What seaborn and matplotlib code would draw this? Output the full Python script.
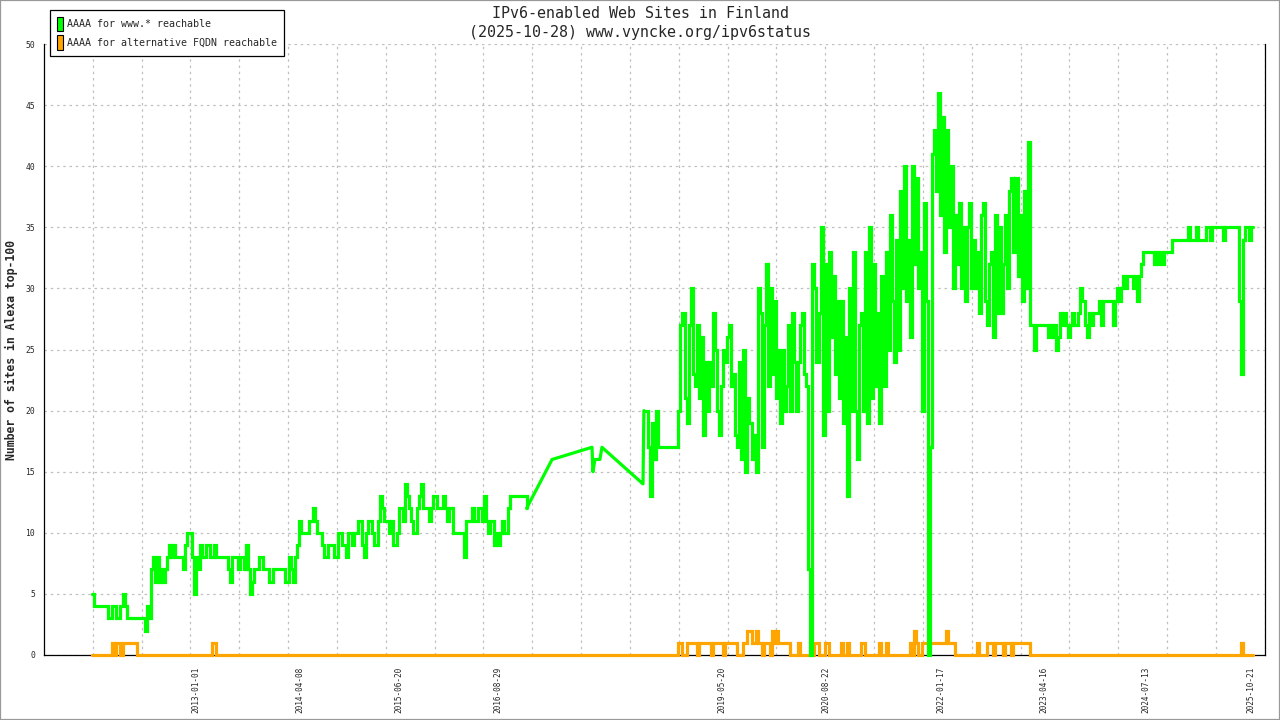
import pandas as pd
import matplotlib
matplotlib.use("Agg")
import matplotlib.pyplot as plt
import matplotlib.dates as mdates
from matplotlib.patches import Patch, Rectangle
from matplotlib.ticker import FixedLocator, FixedFormatter, NullFormatter
import seaborn as sns

# readings every 9 days from 2011-09-28 to early 2017
early_start = "2011-09-28"
www_early = [
    5, 4, 4, 4, 4, 4, 4, 4, 3, 3,
    4, 4, 3, 3, 4, 5, 4, 3, 3, 3,
    3, 3, 3, 3, 3, 3, 2, 4, 3, 7,
    8, 6, 8, 6, 7, 6, 7, 8, 9, 8,
    9, 8, 8, 8, 8, 7, 9, 10, 10, 8,
    5, 8, 7, 9, 8, 8, 9, 9, 8, 8,
    9, 8, 8, 8, 8, 8, 8, 7, 6, 8,
    8, 8, 7, 8, 8, 7, 9, 7, 5, 6,
    7, 7, 8, 8, 7, 7, 7, 6, 6, 7,
    7, 7, 7, 7, 7, 6, 6, 8, 7, 6,
    8, 9, 11, 10, 10, 10, 10, 11, 11, 12,
    11, 10, 10, 9, 8, 8, 9, 9, 9, 8,
    8, 10, 10, 9, 9, 8, 10, 10, 9, 10,
    10, 11, 11, 9, 8, 10, 11, 11, 10, 9,
    9, 11, 13, 12, 11, 11, 10, 11, 9, 9,
    10, 12, 12, 11, 14, 13, 12, 11, 10, 10,
    12, 13, 14, 12, 12, 12, 11, 12, 13, 13,
    12, 12, 12, 13, 12, 11, 12, 12, 10, 10,
    10, 10, 10, 8, 11, 11, 11, 12, 11, 11,
    12, 12, 11, 13, 11, 10, 11, 11, 9, 10,
    9, 10, 11, 10, 10, 12, 13, 13, 13, 13,
    13, 13, 13, 13, 12,
]
alt_early = [
    0, 0, 0, 0, 0, 0, 0, 0, 0, 0,
    1, 0, 1, 1, 0, 1, 1, 1, 1, 1,
    1, 1, 0, 0, 0, 0, 0, 0, 0, 0,
    0, 0, 0, 0, 0, 0, 0, 0, 0, 0,
    0, 0, 0, 0, 0, 0, 0, 0, 0, 0,
    0, 0, 0, 0, 0, 0, 0, 0, 0, 1,
    1, 0, 0, 0, 0, 0, 0, 0, 0, 0,
    0, 0, 0, 0, 0, 0, 0, 0, 0, 0,
    0, 0, 0, 0, 0, 0, 0, 0, 0, 0,
    0, 0, 0, 0, 0, 0, 0, 0, 0, 0,
    0, 0, 0, 0, 0, 0, 0, 0, 0, 0,
    0, 0, 0, 0, 0, 0, 0, 0, 0, 0,
    0, 0, 0, 0, 0, 0, 0, 0, 0, 0,
    0, 0, 0, 0, 0, 0, 0, 0, 0, 0,
    0, 0, 0, 0, 0, 0, 0, 0, 0, 0,
    0, 0, 0, 0, 0, 0, 0, 0, 0, 0,
    0, 0, 0, 0, 0, 0, 0, 0, 0, 0,
    0, 0, 0, 0, 0, 0, 0, 0, 0, 0,
    0, 0, 0, 0, 0, 0, 0, 0, 0, 0,
    0, 0, 0, 0, 0, 0, 0, 0, 0, 0,
    0, 0, 0, 0, 0, 0, 0, 0, 0, 0,
    0, 0, 0, 0, 0,
]

# sparse measurements during 2017-2018
gap_dates = ["2017-04-28", "2017-10-22", "2017-10-26", "2017-11-04",
             "2017-11-26", "2017-12-05", "2018-06-05"]
www_gap = [16, 17, 15, 16, 16, 17, 14]
alt_gap = [0, 0, 0, 0, 0, 0, 0]

# readings every 9 days again from 2018-06-09
recent_start = "2018-06-09"
www_recent = [
    20, 20, 17, 13, 19, 16, 20, 17, 17, 17,
    17, 17, 17, 17, 17, 17, 17, 20, 27, 28,
    21, 19, 27, 30, 23, 22, 27, 21, 26, 18,
    24, 20, 24, 22, 28, 25, 20, 18, 22, 25,
    24, 26, 27, 22, 23, 18, 17, 24, 16, 25,
    15, 21, 19, 16, 18, 15, 30, 28, 17, 27,
    32, 22, 30, 23, 29, 21, 25, 19, 25, 20,
    22, 27, 20, 28, 24, 20, 24, 27, 28, 23,
    22, 7, 0, 32, 30, 24, 28, 35, 18, 32,
    20, 33, 26, 31, 23, 29, 21, 29, 19, 26,
    13, 30, 20, 33, 20, 16, 27, 28, 20, 33,
    19, 35, 21, 32, 22, 28, 19, 31, 22, 33,
    25, 36, 29, 24, 34, 25, 38, 30, 40, 29,
    34, 26, 40, 32, 39, 30, 33, 20, 37, 29,
    0, 17, 41, 43, 38, 46, 36, 44, 33, 43,
    35, 40, 30, 36, 32, 37, 30, 35, 29, 35,
    37, 30, 34, 30, 33, 28, 36, 37, 29, 27,
    32, 33, 26, 36, 28, 35, 28, 32, 36, 30,
    38, 39, 33, 39, 31, 36, 29, 38, 30, 42,
    27, 27, 25, 27, 27, 27, 27, 27, 27, 26,
    27, 26, 27, 25, 26, 28, 27, 28, 27, 26,
    27, 28, 27, 27, 28, 30, 29, 27, 26, 28,
    27, 28, 28, 28, 29, 27, 29, 29, 29, 29,
    29, 27, 29, 30, 29, 30, 31, 30, 31, 31,
    31, 30, 31, 29, 31, 32, 33, 33, 33, 33,
    33, 32, 33, 32, 33, 32, 33, 33, 33, 33,
    34, 34, 34, 34, 34, 34, 34, 34, 35, 34,
    34, 34, 35, 34, 34, 34, 34, 35, 35, 34,
    35, 35, 35, 35, 35, 34, 35, 35, 35, 35,
    35, 35, 35, 29, 23, 34, 35, 35, 34, 35,
    35,
]
alt_recent = [
    0, 0, 0, 0, 0, 0, 0, 0, 0, 0,
    0, 0, 0, 0, 0, 0, 0, 1, 1, 0,
    0, 1, 1, 1, 1, 1, 0, 1, 1, 1,
    1, 1, 1, 0, 1, 1, 1, 1, 1, 0,
    1, 1, 1, 1, 1, 1, 0, 0, 0, 1,
    1, 2, 2, 1, 1, 2, 1, 1, 0, 1,
    1, 1, 0, 2, 1, 2, 1, 1, 1, 1,
    1, 1, 0, 0, 0, 0, 1, 0, 0, 0,
    0, 0, 0, 0, 1, 1, 0, 0, 0, 1,
    1, 0, 0, 0, 0, 0, 0, 1, 0, 0,
    1, 0, 0, 0, 0, 0, 0, 1, 1, 0,
    0, 0, 0, 0, 0, 0, 1, 0, 0, 1,
    0, 0, 0, 0, 0, 0, 0, 0, 0, 0,
    0, 1, 0, 2, 1, 0, 0, 1, 1, 1,
    1, 1, 1, 1, 1, 1, 1, 1, 1, 2,
    1, 1, 1, 0, 0, 0, 0, 0, 0, 0,
    0, 0, 0, 0, 1, 0, 0, 0, 0, 1,
    1, 1, 0, 1, 1, 1, 1, 0, 1, 1,
    1, 0, 1, 1, 1, 1, 1, 1, 1, 1,
    0, 0, 0, 0, 0, 0, 0, 0, 0, 0,
    0, 0, 0, 0, 0, 0, 0, 0, 0, 0,
    0, 0, 0, 0, 0, 0, 0, 0, 0, 0,
    0, 0, 0, 0, 0, 0, 0, 0, 0, 0,
    0, 0, 0, 0, 0, 0, 0, 0, 0, 0,
    0, 0, 0, 0, 0, 0, 0, 0, 0, 0,
    0, 0, 0, 0, 0, 0, 0, 0, 0, 0,
    0, 0, 0, 0, 0, 0, 0, 0, 0, 0,
    0, 0, 0, 0, 0, 0, 0, 0, 0, 0,
    0, 0, 0, 0, 0, 0, 0, 0, 0, 0,
    0, 0, 0, 0, 1, 0, 0, 0, 0, 0,
    0,
]

label_dates = ["2013-01-01", "2014-04-08", "2015-06-20", "2016-08-29", "2019-05-20",
               "2020-08-22", "2022-01-17", "2023-04-16", "2024-07-13", "2025-10-21"]

title_1 = "IPv6-enabled Web Sites in Finland"
title_2 = "(2025-10-28) www.vyncke.org/ipv6status"
name_www = "AAAA for www.* reachable"
name_alt = "AAAA for alternative FQDN reachable"

df_early = pd.DataFrame({"date": pd.date_range(early_start, periods=len(www_early), freq="9D"),
                         "www": www_early, "alt": alt_early})
df_gap = pd.DataFrame({"date": pd.to_datetime(gap_dates), "www": www_gap, "alt": alt_gap})
df_recent = pd.DataFrame({"date": pd.date_range(recent_start, periods=len(www_recent), freq="9D"),
                          "www": www_recent, "alt": alt_recent})
# the sparse stretch is drawn as straight lines between its neighbours
df_bridge = pd.concat([df_early.tail(1), df_gap, df_recent.head(1)], ignore_index=True)

sns.set_theme(style="white")
plt.rcParams["font.family"] = ["DejaVu Sans Mono", "DejaVu Sans"]

fig = plt.figure(figsize=(12.8, 7.2), dpi=100)
ax = fig.add_axes([44 / 1280, 65 / 720, 1221 / 1280, 611 / 720])

green = "#00FF00"
orange = "#FFA500"
lw = 2.3
for col, color, z in [("alt", orange, 3), ("www", green, 4)]:
    for part in [df_early, df_recent]:
        sns.lineplot(data=part, x="date", y=col, color=color, linewidth=lw, estimator=None,
                     sort=False, ax=ax, legend=False, zorder=z, clip_on=False,
                     drawstyle="steps-post", solid_joinstyle="miter")
    sns.lineplot(data=df_bridge, x="date", y=col, color=color, linewidth=lw, estimator=None,
                 sort=False, ax=ax, legend=False, zorder=z, clip_on=False)

ax.set_xlim(pd.Timestamp("2011-02-27"), pd.Timestamp("2025-12-22"))
ax.set_ylim(0, 50)

# evenly spaced x grid ticks (about 216 days apart)
grid_ticks = [pd.Timestamp("2011-10-01") + pd.to_timedelta(k * 216.46, unit="D") for k in range(-1, 25)]
ax.xaxis.set_major_locator(FixedLocator(mdates.date2num(grid_ticks)))
ax.xaxis.set_major_formatter(NullFormatter())
ax.xaxis.set_minor_locator(FixedLocator(mdates.date2num(pd.to_datetime(label_dates))))
ax.xaxis.set_minor_formatter(FixedFormatter(label_dates))
ax.tick_params(axis="x", which="major", direction="out", length=5, width=0.8, color="black")
ax.tick_params(axis="x", which="minor", length=0, pad=8.5, labelsize=5.6, labelrotation=90)

ax.set_yticks(range(0, 51, 5))
ax.tick_params(axis="y", direction="inout", length=7, width=0.8, color="black",
               labelsize=5.8, pad=3)

ax.grid(True, which="major", color="#c0c0c0", linestyle=(0, (2, 3)), linewidth=0.9)
ax.set_axisbelow(True)

for side in ["left", "bottom", "right"]:
    ax.spines[side].set_color("black")
    ax.spines[side].set_linewidth(0.9)
ax.spines["top"].set_visible(False)

ax.set_xlabel("")
ax.set_ylabel("Number of sites in Alexa top-100", fontsize=8.3, fontweight="bold")
ax.yaxis.set_label_coords(-0.021, 0.5)

fig.text(0.5, 1 - 13 / 720, title_1, ha="center", va="center", fontsize=10.8)
fig.text(0.5, 1 - 32 / 720, title_2, ha="center", va="center", fontsize=10.8)

handles = [Patch(facecolor=green, edgecolor="black", linewidth=0.8),
           Patch(facecolor=orange, edgecolor="black", linewidth=0.8)]
leg = fig.legend(handles, [name_www, name_alt], loc="upper left",
                 bbox_to_anchor=(50 / 1280, 1 - 10 / 720), frameon=True, fancybox=False,
                 edgecolor="black", framealpha=1, fontsize=7.2, handlelength=0.6,
                 handleheight=1.85, handletextpad=0.45, labelspacing=0.45, borderpad=0.65,
                 borderaxespad=0)
leg.get_frame().set_linewidth(0.9)

fig.patches.append(Rectangle((0, 0), 1, 1, transform=fig.transFigure, fill=False,
                             edgecolor="#999999", linewidth=1.6))

fig.savefig("out.png", dpi=100)
